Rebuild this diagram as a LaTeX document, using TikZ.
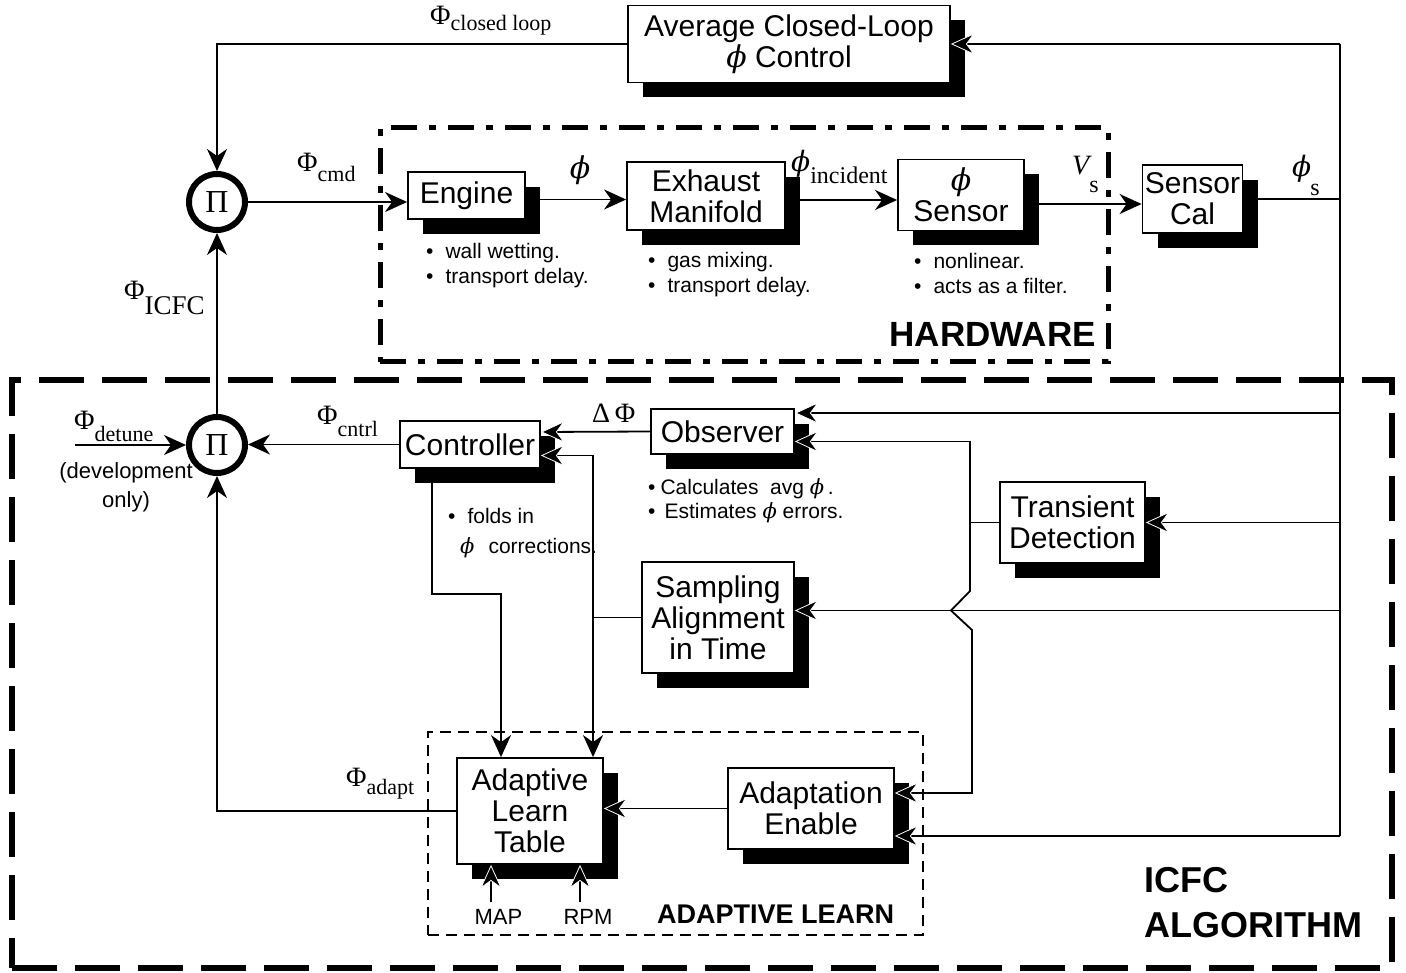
\documentclass[tikz,border=0pt]{standalone}
\usepackage{fontspec}
\setmainfont{Liberation Sans}
\newfontfamily\serf{Liberation Serif}
\newfontfamily\phf{DejaVu Serif}
\usetikzlibrary{arrows.meta,shadows}
\newcommand\mysub[2]{\raisebox{-#1pt}{\fontsize{22}{22}\selectfont #2}}
\newcommand\phis{{\phf\itshape ϕ}}
\begin{document}
\begin{tikzpicture}[x=1pt,y=-1pt,
 blk/.style={draw,line width=1.8pt,fill=white,align=center,inner sep=0pt,
   font=\fontsize{30}{31}\selectfont,
   drop shadow={shadow xshift=15pt,shadow yshift=-15pt,fill=black,opacity=1}},
 ln/.style={line width=1.8pt},
 arr/.style={line width=1.8pt,-{Stealth[length=22pt,width=20pt,inset=7pt]}},
 sarr/.style={line width=1.8pt,-{Stealth[length=24pt,width=22pt,inset=8pt,color=white,fill=black,line width=0.8pt]}},
 sum/.style={circle,draw,line width=6pt,minimum size=56pt,inner sep=0pt,font=\serf\fontsize{32}{32}\selectfont},
 lbl/.style={inner sep=0pt,font=\serf\fontsize{28}{28}\selectfont},
 note/.style={inner sep=0pt,anchor=north west,align=left,font=\fontsize{21}{25}\selectfont},
 ttl/.style={inner sep=0pt,align=left,font=\bfseries\fontsize{36}{45}\selectfont},
]
\useasboundingbox (0,0) rectangle (1406,973);

% frames
\node[draw,line width=5pt,dash pattern=on 26pt off 12pt on 7pt off 12pt,minimum width=728pt,minimum height=234pt,inner sep=0pt] (hw) at (744,245) {};
\node[draw,line width=6pt,dash pattern=on 45pt off 18pt,minimum width=1380pt,minimum height=588pt,inner sep=0pt] (icfc) at (702,674) {};
\node[draw,line width=2.5pt,dash pattern=on 11pt off 7pt,minimum width=495pt,minimum height=203pt,inner sep=0pt] (adl) at (675.5,833.5) {};

% titles
\node[ttl,anchor=north east,font=\bfseries\fontsize{35}{35}\selectfont] (hwt) at (1096,322) {HARDWARE};
\node[ttl,anchor=north west,font=\bfseries\fontsize{27}{27}\selectfont] (alt2) at (657,905) {ADAPTIVE LEARN};
\node[ttl,anchor=north west] (icft) at (1144,867) {ICFC\\ALGORITHM};

% blocks
\node[blk,minimum width=322pt,minimum height=77pt] (acl) at (789,44) {Average Closed-Loop\\\phis\ Control};
\node[blk,minimum width=117pt,minimum height=47pt] (eng) at (466.5,195.5) {Engine};
\node[blk,minimum width=158pt,minimum height=68pt] (exh) at (706,196) {Exhaust\\Manifold};
\node[blk,minimum width=126pt,minimum height=71pt] (sen) at (961,195) {\phis\\Sensor};
\node[blk,minimum width=100pt,minimum height=68pt] (cal) at (1192.5,199) {Sensor\\Cal};
\node[blk,minimum width=140pt,minimum height=47pt] (ctl) at (470,444.5) {Controller};
\node[blk,minimum width=143pt,minimum height=45pt] (obs) at (722.5,431.5) {Observer};
\node[blk,minimum width=145pt,minimum height=81pt] (trd) at (1072.5,522.5) {Transient\\Detection};
\node[blk,minimum width=152pt,minimum height=111pt] (sam) at (718,617.5) {Sampling\\Alignment\\in Time};
\node[blk,minimum width=146pt,minimum height=106pt] (alt) at (530,811) {Adaptive\\Learn\\Table};
\node[blk,minimum width=166pt,minimum height=81pt] (aen) at (811,808.5) {Adaptation\\Enable};

% multipliers
\node[sum] (p1) at (217,202) {Π};
\node[sum] (p2) at (217,445) {Π};

% labels
\node[lbl,anchor=base west] (lcl) at (430,25) {Φ\mysub{6}{closed loop}};
\node[lbl,anchor=base west] (lcmd) at (297,172) {Φ\mysub{10}{cmd}};
\node[lbl,font=\fontsize{30}{30}\selectfont] (lph) at (580,170) {\phis};
\node[lbl,anchor=base west] (linc) at (791,172) {\phis\raisebox{-12pt}{\fontsize{24}{24}\selectfont incident}};
\node[lbl,anchor=base west] (lvs) at (1072,175) {\itshape V\raisebox{-18pt}{\upshape\fontsize{24}{24}\selectfont s}};
\node[lbl,anchor=base west] (lps) at (1292,177) {\phis\hspace{-1pt}\raisebox{-19pt}{\fontsize{24}{24}\selectfont s}};
\node[lbl,anchor=base west] (licfc) at (124,300) {Φ\hspace{0pt}\raisebox{-15pt}{\fontsize{27}{27}\selectfont ICFC}};
\node[lbl,anchor=base west] (ldt) at (74,430) {Φ\mysub{12}{detune}};
\node[lbl,anchor=base west] (lcn) at (317,425) {Φ\mysub{12}{cntrl}};
\node[lbl,anchor=base west] (ldp) at (592,423) {Δ\,Φ};
\node[lbl,anchor=base west] (lad) at (346,786) {Φ\mysub{8}{adapt}};

% notes
\node[note] (n1) at (426,243) {•\hspace{12pt}wall wetting.\\•\hspace{12pt}transport delay.};
\node[note] (n2) at (648,252) {•\hspace{12pt}gas mixing.\\•\hspace{12pt}transport delay.};
\node[note] (n3) at (914,253) {•\hspace{12pt}nonlinear.\\•\hspace{12pt}acts as a filter.};
\node[note,font=\fontsize{21}{24}\selectfont] (n4) at (648,478) {•\hspace{5pt}Calculates\ \ avg \phis\,.\\•\hspace{9pt}Estimates \phis\ errors.};
\node[note,font=\fontsize{21}{30}\selectfont] (n5) at (448,508) {•\hspace{12pt}folds in\\\hspace{12pt}\phis\hspace{14pt}corrections.};
\node[inner sep=0pt,align=center,font=\fontsize{22}{29}\selectfont] (dev) at (126,487) {(development\\only)};
\node[inner sep=0pt,font=\fontsize{22}{22}\selectfont] (map) at (498.5,917) {MAP};
\node[inner sep=0pt,font=\fontsize{22}{22}\selectfont] (rpm) at (588,917) {RPM};

% coordinates
\coordinate (bt) at (1340,44);
\coordinate (aeIn2) at ([shift={(0,27.5)}]aen.east);
\coordinate (aeIn1) at ([shift={(0,-15.5)}]aen.east);
\coordinate (obIn1) at ([shift={(0,-18.5)}]obs.east);
\coordinate (obIn2) at ([shift={(0,10)}]obs.east);
\coordinate (saIn) at ([shift={(0,-7)}]sam.east);
\coordinate (ctIn1) at ([shift={(0,-12.5)}]ctl.east);
\coordinate (ctIn2) at ([shift={(0,11)}]ctl.east);
\coordinate (kx) at (970,0);
\coordinate (k1) at (970,591);
\coordinate (k2) at (951,610.5);
\coordinate (k3) at (972,630);
\coordinate (vx) at (593,0);
\coordinate (c1) at (432,594);
\coordinate (c2) at (501,594);
\coordinate (dt) at (75,445);
\coordinate (mapA) at (491,902);
\coordinate (rpmA) at (580,902);

% top loop
\draw[arr] (acl.west) -| (p1.north);
\draw[ln] (cal.east) -- (cal.east -| bt);
\draw[sarr] (bt) -- (acl.east);
\draw[ln] (bt) -- (bt |- aeIn2);

% hardware chain
\draw[arr] (p1.east) -- (p1.east -| eng.west);
\draw[arr] ([yshift=-4pt]eng.east) -- ([yshift=-4pt]eng.east -| exh.west);
\draw[arr] ([yshift=-4pt]exh.east) -- ([yshift=-4pt]exh.east -| sen.west);
\draw[arr] ([yshift=-9pt]sen.east) -- ([yshift=-9pt]sen.east -| cal.west);

% bus inputs
\draw[sarr] (obIn1 -| bt) -- (obIn1);
\draw[sarr] (trd.east -| bt) -- (trd.east);
\draw[sarr] (saIn -| bt) -- (saIn);
\draw[sarr] (aeIn2 -| bt) -- (aeIn2);

% transient detection outputs
\draw[sarr] (trd.west) -- (trd.west -| kx) -- (obIn2 -| kx) -- (obIn2);
\draw[sarr] (trd.west -| kx) -- (k1) -- (k2) -- (k3) -- (k3 |- aeIn1) -- (aeIn1);

% left part
\draw[sarr] (obs.west) -- (ctIn1);
\draw[sarr] (sam.west) -- (sam.west -| vx) |- (ctIn2);
\draw[arr] (sam.west -| vx) -- (vx |- alt.north);
\draw[arr] (ctl.south -| c1) -- (c1) -- (c2) -- (c2 |- alt.north);
\draw[arr] (ctl.west) -- (ctl.west -| p2.east);
\draw[arr] (dt) -- (p2.west);
\draw[arr] (p2.north) -- (p1.south);
\draw[arr] (alt.west) -| (p2.south);
\draw[sarr] (aen.west) -- (aen.west -| alt.east);
\draw[sarr] (mapA) -- (mapA |- alt.south);
\draw[sarr] (rpmA) -- (rpmA |- alt.south);
\end{tikzpicture}
\end{document}
